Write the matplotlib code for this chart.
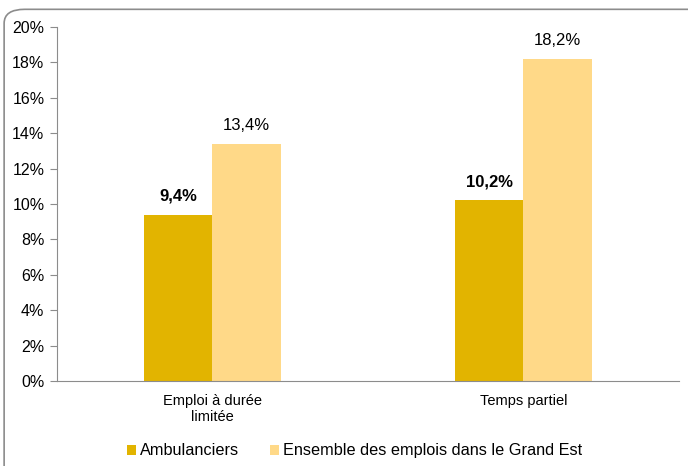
import matplotlib.pyplot as plt
import numpy as np
from matplotlib.patches import FancyBboxPatch

# Données
categories = ["Emploi à durée\nlimitée", "Temps partiel"]
ambulanciers = [9.4, 10.2]
ensemble = [13.4, 18.2]
series_names = ["Ambulanciers", "Ensemble des emplois dans le Grand Est"]
yticks = [0, 2, 4, 6, 8, 10, 12, 14, 16, 18, 20]

plt.rcParams['font.family'] = ['Liberation Sans', 'DejaVu Sans']

fig = plt.figure(figsize=(6.88, 4.66), dpi=100)
ax = fig.add_axes([0.0828, 0.1824, 0.904, 0.7597])

# cadre arrondi autour du graphique
cadre = FancyBboxPatch((0.006, -0.05), 1.05, 1.03,
                       boxstyle="round,pad=0,rounding_size=0.03",
                       transform=fig.transFigure, fill=False,
                       edgecolor="#8c8c8c", linewidth=1.2, zorder=0)
fig.patches.append(cadre)

x = np.arange(len(categories))
w = 0.22
b1 = ax.bar(x - w / 2, ambulanciers, w, color="#E2B400", label=series_names[0])
b2 = ax.bar(x + w / 2, ensemble, w, color="#FFD988", label=series_names[1])

for rect, v in zip(b1, ambulanciers):
    ax.text(rect.get_x() + rect.get_width() / 2, v + 0.6, f"{v:.1f}%".replace(".", ","),
            ha="center", va="bottom", fontsize=12, fontweight="bold")
for rect, v in zip(b2, ensemble):
    ax.text(rect.get_x() + rect.get_width() / 2, v + 0.6, f"{v:.1f}%".replace(".", ","),
            ha="center", va="bottom", fontsize=12)

ax.set_xlim(-0.5, 1.5)
ax.set_ylim(0, 20)
ax.set_yticks(yticks)
ax.set_yticklabels([f"{t}%" for t in yticks], fontsize=11.5)
ax.set_xticks(x)
ax.set_xticklabels(categories, fontsize=10.5)
ax.tick_params(axis="x", length=0, pad=9)
ax.tick_params(axis="y", length=5, color="#8c8c8c", pad=4)

for s in ["top", "right"]:
    ax.spines[s].set_visible(False)
for s in ["left", "bottom"]:
    ax.spines[s].set_color("#8c8c8c")
    ax.spines[s].set_linewidth(0.8)

ax.legend(loc="upper center", bbox_to_anchor=(0.478, -0.135), ncol=2, frameon=False,
          fontsize=11.7, handlelength=0.6, handleheight=0.6, handletextpad=0.2,
          columnspacing=1.9)

fig.savefig("out.png", dpi=100)
